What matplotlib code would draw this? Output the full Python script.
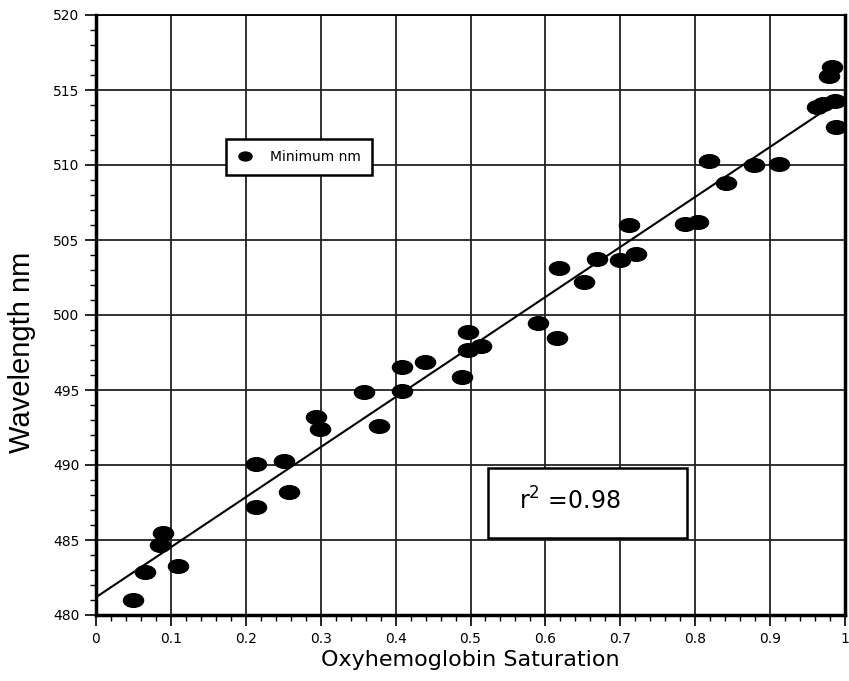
import numpy as np
import matplotlib
matplotlib.use("Agg")
import matplotlib.pyplot as plt
from matplotlib.path import Path
from matplotlib.patches import Rectangle
from matplotlib.ticker import MultipleLocator

# Donnees
saturation = [0.049, 0.066, 0.085, 0.089, 0.109, 0.213, 0.214, 0.251, 0.258,
              0.294, 0.299, 0.358, 0.378, 0.409, 0.409, 0.439, 0.489, 0.496,
              0.496, 0.514, 0.590, 0.615, 0.618, 0.652, 0.669, 0.699, 0.712,
              0.721, 0.786, 0.804, 0.818, 0.841, 0.879, 0.912, 0.962, 0.971,
              0.987, 0.978, 0.983, 0.988]
longueur_onde = [481.0, 482.85, 484.7, 485.45, 483.3, 487.2, 490.1, 490.3, 488.2,
                 493.2, 492.4, 494.9, 492.6, 496.55, 494.95, 496.9, 495.85, 498.85,
                 497.7, 497.95, 499.45, 498.5, 503.15, 502.2, 503.75, 503.7, 506.0,
                 504.1, 506.1, 506.2, 510.3, 508.8, 510.0, 510.1, 513.9, 514.1,
                 514.25, 515.95, 516.55, 512.55]
label_serie = "Minimum nm"
texte_r2 = "r$^2$ =0.98"

plt.rcParams['mathtext.default'] = 'regular'

# marqueur en ellipse (plus large que haut)
cercle = Path.unit_circle()
ellipse = Path(cercle.vertices * np.array([1.0, 0.68]), cercle.codes)

fig = plt.figure(figsize=(8.49, 6.81), dpi=100)
ax = fig.add_axes([96 / 849, 66 / 681, 749 / 849, 600 / 681])

ax.plot(saturation, longueur_onde, linestyle='none', marker=ellipse,
        markersize=14.5, color='black', label=label_serie, zorder=3)

# droite de regression
pente, origine = np.polyfit(saturation, longueur_onde, 1)
xs = np.array([0.0, 1.0])
ax.plot(xs, origine + pente * xs, color='black', lw=1.5, zorder=2)

ax.set_xlim(0, 1)
ax.set_ylim(480, 520)
ax.xaxis.set_minor_locator(MultipleLocator(0.02))
ax.yaxis.set_major_locator(MultipleLocator(5))
ax.yaxis.set_minor_locator(MultipleLocator(1))
ax.set_xticks(np.arange(0, 1.01, 0.1))
ax.set_xticklabels(['0', '0.1', '0.2', '0.3', '0.4', '0.5', '0.6', '0.7', '0.8', '0.9', '1'])

ax.grid(True, which='major', color='#222222', lw=1.3)
ax.set_axisbelow(True)
ax.tick_params(which='major', direction='out', length=8, width=1.2, labelsize=10,
               pad=4)
ax.tick_params(which='minor', direction='out', length=4, width=1)

for s in ['left', 'bottom', 'right']:
    ax.spines[s].set_linewidth(2.5)
ax.spines['top'].set_linewidth(1.3)

ax.set_xlabel("Oxyhemoglobin Saturation", fontsize=16, labelpad=3)
ax.set_ylabel("Wavelength nm", fontsize=21, family='Liberation Sans')
ax.yaxis.set_label_coords(-0.08, 0.438)

leg = ax.legend(loc='upper left', bbox_to_anchor=(0.1736, 0.793), borderaxespad=0,
                fancybox=False, edgecolor='black', framealpha=1, markerscale=0.65,
                fontsize=10, handlelength=1.2, borderpad=0.8, handletextpad=1.2)
leg.get_frame().set_linewidth(1.8)
leg.set_zorder(5)

ax.add_patch(Rectangle((0.5234, 0.1283), 0.2656, 0.1167, transform=ax.transAxes,
                       facecolor='white', edgecolor='black', lw=1.8, zorder=5))
ax.text(0.633, 0.19, texte_r2, transform=ax.transAxes, ha='center', va='center',
        fontsize=17, zorder=6)

fig.savefig("out.png", dpi=100)
